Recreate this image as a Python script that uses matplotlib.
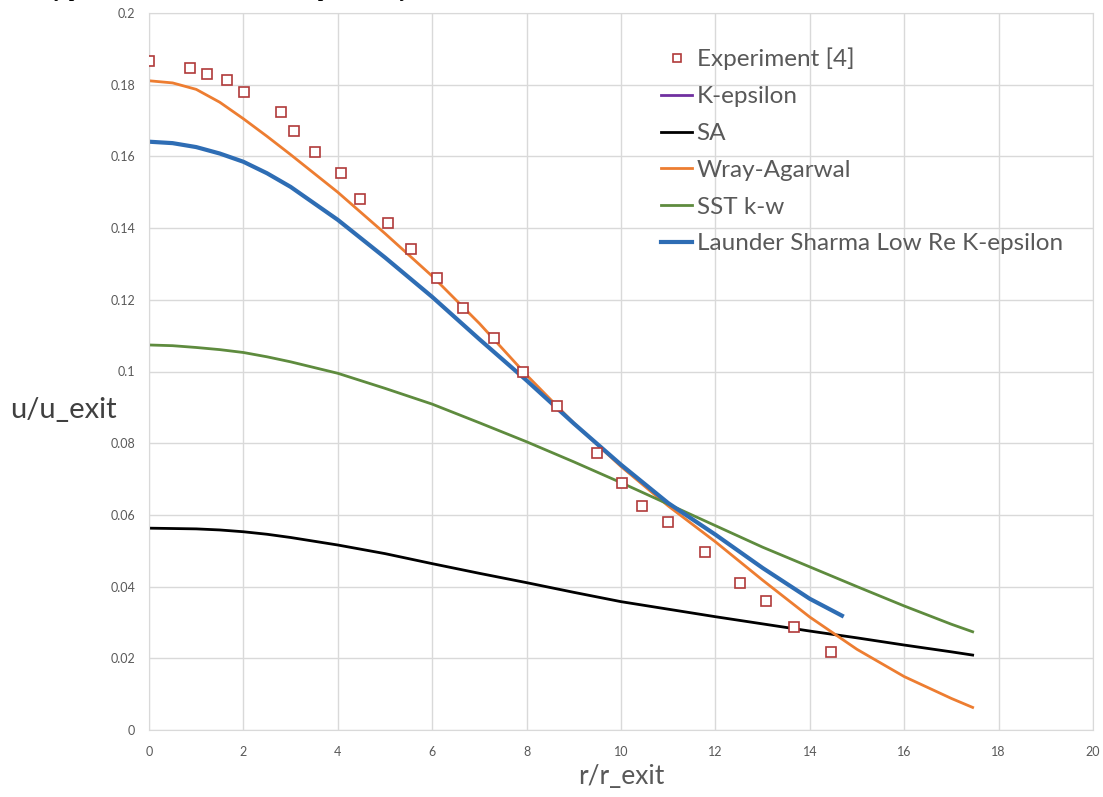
import matplotlib
matplotlib.use('Agg')
import matplotlib.pyplot as plt

# Experimental centreline data
exp_r = [0.0, 0.87, 1.23, 1.65, 2.02, 2.80, 3.07, 3.52, 4.06, 4.47, 5.07, 5.56,
         6.11, 6.66, 7.31, 7.93, 8.65, 9.50, 10.02, 10.44, 10.99, 11.77, 12.53,
         13.08, 13.67, 14.45]
exp_u = [0.1865, 0.1847, 0.1831, 0.1813, 0.1780, 0.1725, 0.1672, 0.1613, 0.1553,
         0.1482, 0.1415, 0.1343, 0.1260, 0.1178, 0.1094, 0.0998, 0.0905, 0.0774,
         0.0688, 0.0626, 0.0580, 0.0496, 0.0411, 0.0359, 0.0287, 0.0218]

# Model predictions
r_long = [0, 0.5, 1, 1.5, 2, 2.5, 3, 4, 5, 6, 7, 8, 9, 10, 11, 12, 13, 14, 15, 16, 17, 17.45]
sa_u = [0.0563, 0.0562, 0.0561, 0.0558, 0.0553, 0.0546, 0.0537, 0.0516, 0.0492,
        0.0464, 0.0437, 0.0411, 0.0384, 0.0358, 0.0337, 0.0316, 0.0296, 0.0276,
        0.0257, 0.0237, 0.0218, 0.0209]
wa_u = [0.1811, 0.1805, 0.1787, 0.1751, 0.1705, 0.1656, 0.1605, 0.1500, 0.1385,
        0.1266, 0.1134, 0.0990, 0.0856, 0.0735, 0.0625, 0.0525, 0.0418, 0.0315,
        0.0225, 0.0149, 0.0088, 0.0063]
sst_u = [0.1074, 0.1072, 0.1067, 0.1061, 0.1053, 0.1041, 0.1027, 0.0995, 0.0953,
         0.0909, 0.0857, 0.0804, 0.0748, 0.0690, 0.0630, 0.0570, 0.0510, 0.0455,
         0.0400, 0.0346, 0.0295, 0.0274]

r_ls = [0, 0.5, 1, 1.5, 2, 2.5, 3, 4, 5, 6, 7, 8, 9, 10, 11, 12, 13, 14, 14.68]
ls_u = [0.1641, 0.1637, 0.1626, 0.1608, 0.1585, 0.1553, 0.1515, 0.1423, 0.1318,
        0.1208, 0.1090, 0.0975, 0.0855, 0.0740, 0.0633, 0.0545, 0.0452, 0.0366, 0.0319]

x_ticks = [0, 2, 4, 6, 8, 10, 12, 14, 16, 18, 20]
y_ticks = [0, 0.02, 0.04, 0.06, 0.08, 0.1, 0.12, 0.14, 0.16, 0.18, 0.2]
y_tick_labels = ['0', '0.02', '0.04', '0.06', '0.08', '0.1', '0.12', '0.14', '0.16', '0.18', '0.2']

plt.rcParams['font.family'] = ['Lato', 'DejaVu Sans']
gray_txt = '#595959'
W, H = 1103, 797

fig = plt.figure(figsize=(W / 100, H / 100), dpi=100)
ax = fig.add_axes([149 / W, 67 / H, 944 / W, 717 / H])

ax.plot(exp_r, exp_u, linestyle='none', marker='s', markersize=6.5,
        markerfacecolor='white', markeredgecolor='#B03A3A', markeredgewidth=1.2,
        label='Experiment [4]', zorder=3)
ax.plot([], [], color='#7030A0', lw=2, label='K-epsilon')
ax.plot(r_long, sa_u, color='black', lw=2, label='SA')
ax.plot(r_long, wa_u, color='#ED7D31', lw=2, label='Wray-Agarwal')
ax.plot(r_long, sst_u, color='#5E8B3E', lw=2, label='SST k-w')
ax.plot(r_ls, ls_u, color='#2E6DB4', lw=3, label='Launder Sharma Low Re K-epsilon')

ax.set_xlim(0, 20)
ax.set_ylim(0, 0.2)
ax.set_xticks(x_ticks)
ax.set_yticks(y_ticks)
ax.set_yticklabels(y_tick_labels)
ax.tick_params(length=0, labelsize=9, colors=gray_txt, pad=10)
ax.tick_params(axis='x', pad=11.5)
ax.grid(True, color='#D9D9D9', lw=1)
for s in ax.spines.values():
    s.set_color('#D9D9D9')
ax.set_axisbelow(True)

ax.set_xlabel('r/r_exit', fontsize=19, color=gray_txt, labelpad=4)
fig.text(10 / W, 1 - 410 / H, 'u/u_exit', fontsize=21, color='#404040', va='center', ha='left')

ax.legend(loc='upper left', bbox_to_anchor=(0.519, 0.982), frameon=False,
          fontsize=17.5, handlelength=1.3, handletextpad=0.17, labelspacing=0.65,
          labelcolor=gray_txt, markerscale=0.8)

# caption line running off the top edge
fig.text(0, 1 + 3 / H, 'velocity profiles with and without compressibility correction',
         fontsize=14, family='Liberation Serif', fontweight='bold',
         va='baseline', ha='left')

fig.savefig('out.png', dpi=100)
